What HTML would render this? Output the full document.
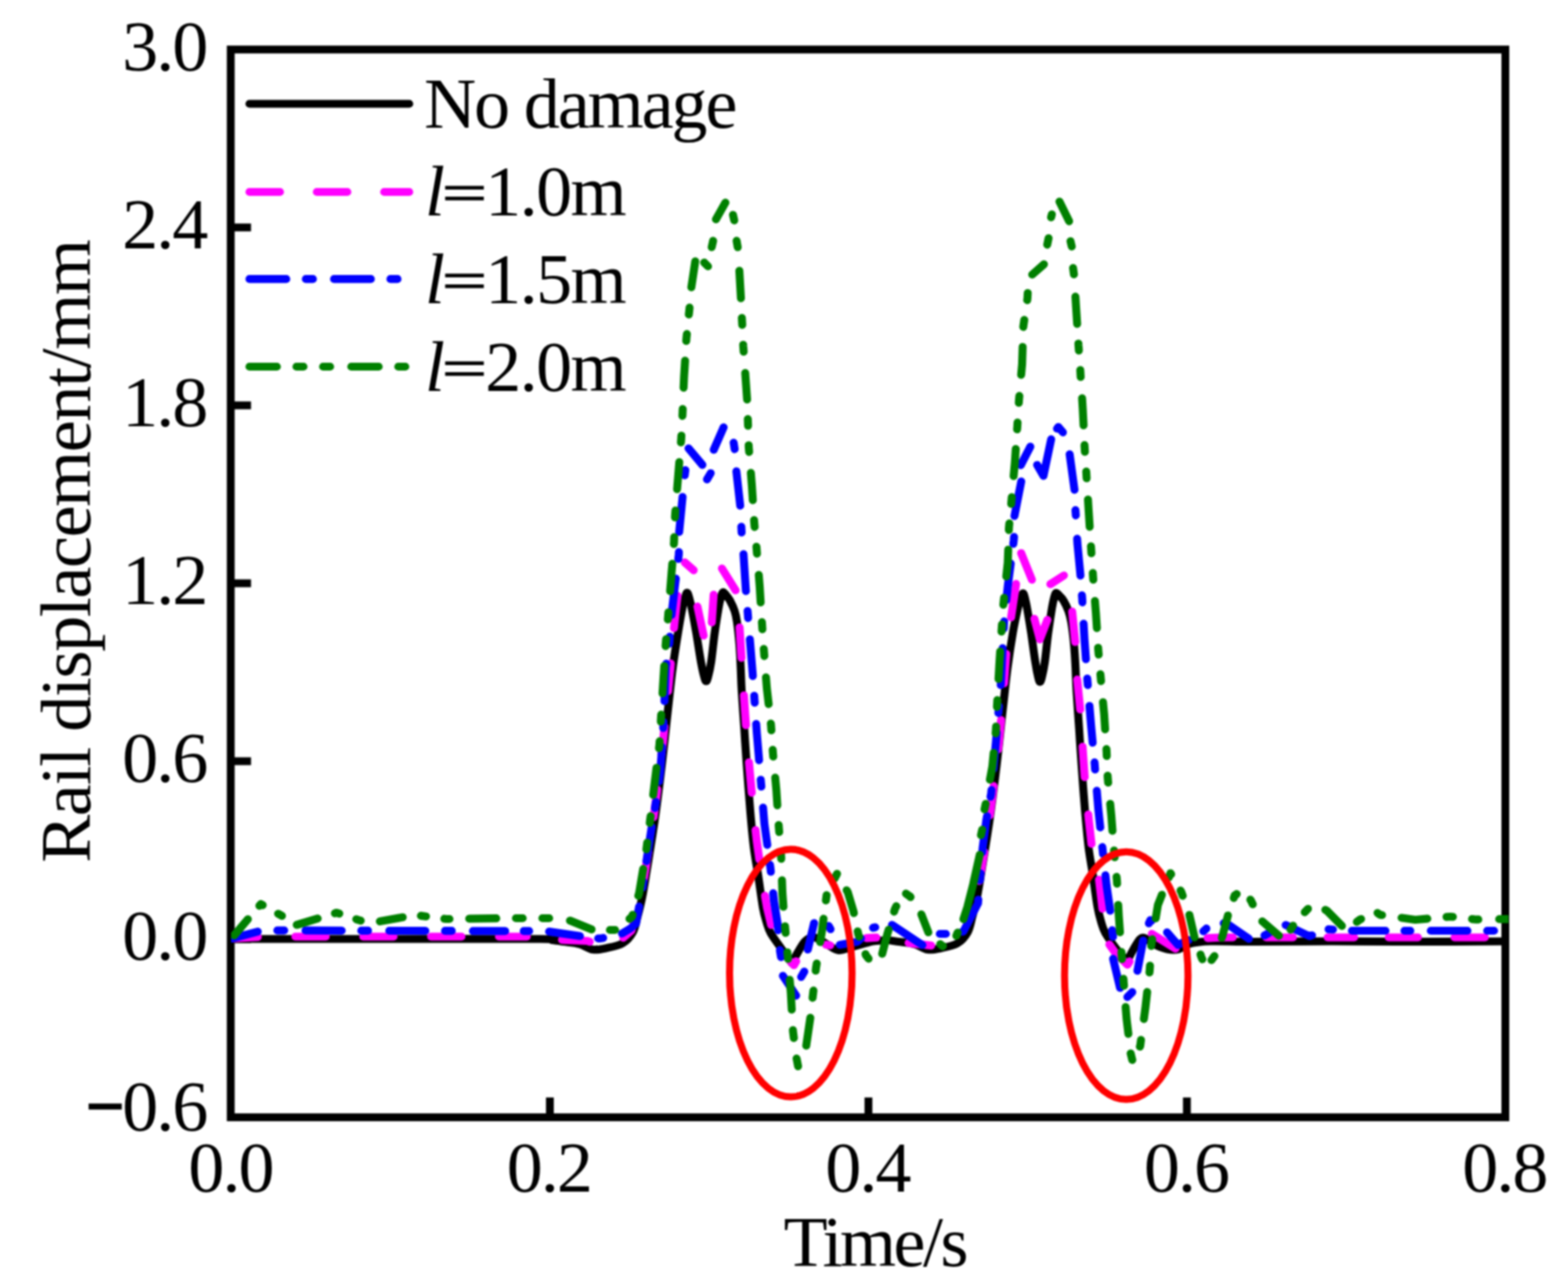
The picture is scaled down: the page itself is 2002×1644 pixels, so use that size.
<!DOCTYPE html>
<html lang="en">
<head>
<meta charset="utf-8">
<title>Rail displacement vs time</title>
<style>
  html, body { margin: 0; padding: 0; background: #ffffff; }
  body { width: 2002px; height: 1644px; overflow: hidden; }
  svg { display: block; filter: blur(0.9px); }
  text { font-family: "Liberation Serif", "DejaVu Serif", serif; font-size: 92px; fill: #000; }
  .curve { fill: none; stroke-width: 10.2; stroke-linejoin: round; stroke-linecap: round; }
  .axis { fill: none; stroke: #000; stroke-width: 10; stroke-linecap: butt; }
</style>
</head>
<body>
<svg width="2002" height="1644" viewBox="0 0 2002 1644">
<rect x="0" y="0" width="2002" height="1644" fill="#ffffff"/>
<defs>
  <clipPath id="plot"><rect x="295.0" y="63.2" width="1631.0" height="1362.6"/></clipPath>
</defs>

<rect class="axis" x="294.6" y="63.2" width="1627.4" height="1362.9"/>
<line class="axis" x1="702.1" y1="1425.8" x2="702.1" y2="1400.8"/>
<line class="axis" x1="1108.8" y1="1425.8" x2="1108.8" y2="1400.8"/>
<line class="axis" x1="1515.4" y1="1425.8" x2="1515.4" y2="1400.8"/>
<line class="axis" x1="295.5" y1="1198.7" x2="320.5" y2="1198.7"/>
<line class="axis" x1="295.5" y1="971.6" x2="320.5" y2="971.6"/>
<line class="axis" x1="295.5" y1="744.5" x2="320.5" y2="744.5"/>
<line class="axis" x1="295.5" y1="517.4" x2="320.5" y2="517.4"/>
<line class="axis" x1="295.5" y1="290.3" x2="320.5" y2="290.3"/>
<g clip-path="url(#plot)">
<path class="curve" stroke="#000000" d="M295.5,1198.5 C329.6,1198.5 434.2,1198.5 500.0,1198.5 C565.8,1198.5 655.8,1198.2 690.0,1198.5 C724.2,1198.8 700.0,1199.4 705.0,1200.0 C710.0,1200.6 714.2,1201.2 720.0,1202.0 C725.8,1202.8 733.8,1203.3 740.0,1205.0 C746.2,1206.7 751.2,1211.2 757.0,1212.0 C762.8,1212.8 768.7,1211.3 775.0,1210.0 C781.3,1208.7 789.5,1207.3 795.0,1204.0 C800.5,1200.7 804.8,1195.7 808.0,1190.0 C811.2,1184.3 812.0,1177.5 814.0,1170.0 C816.0,1162.5 818.0,1155.0 820.0,1145.0 C822.0,1135.0 824.2,1120.5 826.0,1110.0 C827.8,1099.5 828.9,1092.0 830.5,1082.0 C832.1,1072.0 834.0,1060.2 835.5,1050.0 C837.0,1039.8 838.1,1031.8 839.5,1021.0 C840.9,1010.2 842.5,997.3 844.0,985.0 C845.5,972.7 846.8,961.2 848.4,947.0 C850.0,932.8 851.7,915.8 853.5,900.0 C855.3,884.2 856.9,867.7 859.0,852.0 C861.1,836.3 863.9,818.8 866.0,806.0 C868.1,793.2 870.0,782.2 871.5,775.0 C873.0,767.8 873.8,765.6 874.8,762.5 C875.8,759.4 876.4,756.4 877.3,756.5 C878.2,756.6 879.0,759.4 880.0,763.0 C881.0,766.6 882.0,770.5 883.5,778.0 C885.0,785.5 887.1,796.8 889.0,808.0 C890.9,819.2 893.3,835.8 895.0,845.0 C896.7,854.2 897.9,859.4 899.0,863.5 C900.1,867.6 900.7,869.5 901.6,869.5 C902.5,869.5 903.1,867.6 904.2,863.5 C905.3,859.4 906.6,854.2 908.0,845.0 C909.4,835.8 910.9,819.5 912.5,808.0 C914.1,796.5 916.2,783.7 917.5,776.0 C918.8,768.3 919.6,765.3 920.5,762.0 C921.4,758.7 921.9,756.4 923.0,756.0 C924.1,755.6 925.5,757.8 927.0,759.5 C928.5,761.2 930.2,763.1 932.0,766.5 C933.8,769.9 936.5,775.4 938.0,780.0 C939.5,784.6 940.0,787.0 941.0,794.0 C942.0,801.0 943.2,812.3 944.0,822.0 C944.8,831.7 945.2,842.0 945.7,852.0 C946.2,862.0 946.2,869.0 947.0,882.0 C947.8,895.0 949.2,914.5 950.3,930.0 C951.3,945.5 952.0,957.3 953.3,975.0 C954.6,992.7 956.5,1018.2 958.0,1036.0 C959.5,1053.8 960.8,1068.5 962.5,1082.0 C964.2,1095.5 966.1,1104.3 968.0,1117.0 C969.9,1129.7 972.2,1147.8 974.0,1158.0 C975.8,1168.2 977.3,1172.5 979.0,1178.0 C980.7,1183.5 981.0,1185.7 984.0,1191.0 C987.0,1196.3 992.5,1203.6 997.0,1210.0 C1001.5,1216.4 1011.2,1229.5 1011.2,1229.5 C1011.2,1229.5 1016.1,1219.8 1019.0,1215.0 C1021.9,1210.2 1024.8,1204.1 1028.3,1201.0 C1031.8,1197.9 1035.2,1195.7 1040.0,1196.5 C1044.8,1197.3 1051.8,1203.2 1057.0,1206.0 C1062.2,1208.8 1065.5,1212.7 1071.0,1213.0 C1076.5,1213.3 1082.8,1209.9 1090.0,1208.0 C1097.2,1206.1 1107.8,1202.8 1114.0,1201.5 C1120.2,1200.2 1123.9,1200.8 1127.0,1200.5 C1130.1,1200.2 1129.1,1199.8 1132.5,1200.0 C1135.9,1200.2 1141.7,1201.2 1147.5,1202.0 C1153.3,1202.8 1161.3,1203.3 1167.5,1205.0 C1173.7,1206.7 1178.7,1211.2 1184.5,1212.0 C1190.3,1212.8 1196.2,1211.3 1202.5,1210.0 C1208.8,1208.7 1217.0,1207.3 1222.5,1204.0 C1228.0,1200.7 1232.3,1195.7 1235.5,1190.0 C1238.7,1184.3 1239.5,1177.5 1241.5,1170.0 C1243.5,1162.5 1245.5,1155.0 1247.5,1145.0 C1249.5,1135.0 1251.8,1120.5 1253.5,1110.0 C1255.2,1099.5 1256.4,1092.0 1258.0,1082.0 C1259.6,1072.0 1261.5,1060.2 1263.0,1050.0 C1264.5,1039.8 1265.6,1031.8 1267.0,1021.0 C1268.4,1010.2 1270.0,997.3 1271.5,985.0 C1273.0,972.7 1274.3,961.2 1275.9,947.0 C1277.5,932.8 1279.2,915.8 1281.0,900.0 C1282.8,884.2 1284.4,867.7 1286.5,852.0 C1288.6,836.3 1291.3,818.7 1293.5,806.0 C1295.7,793.3 1298.1,782.9 1299.7,775.8 C1301.4,768.7 1302.4,766.4 1303.5,763.3 C1304.6,760.2 1305.4,757.2 1306.3,757.3 C1307.2,757.4 1307.8,760.2 1308.7,763.8 C1309.6,767.4 1310.5,771.3 1311.8,778.8 C1313.1,786.3 1315.0,797.6 1316.7,808.8 C1318.3,820.0 1320.5,836.5 1322.0,845.8 C1323.4,855.0 1324.5,860.2 1325.5,864.3 C1326.5,868.4 1327.0,870.3 1327.8,870.3 C1328.6,870.3 1329.3,868.4 1330.3,864.3 C1331.3,860.2 1332.6,855.0 1333.9,845.8 C1335.3,836.5 1336.7,820.3 1338.2,808.8 C1339.8,797.3 1341.8,784.5 1343.0,776.8 C1344.3,769.1 1345.0,766.1 1345.9,762.8 C1346.8,759.5 1347.2,757.2 1348.3,756.8 C1349.4,756.4 1351.0,758.7 1352.5,760.3 C1354.1,761.9 1355.9,763.2 1357.8,766.5 C1359.8,769.8 1362.6,775.4 1364.2,780.0 C1365.8,784.6 1366.5,787.0 1367.7,794.0 C1368.9,801.0 1370.3,812.3 1371.2,822.0 C1372.1,831.7 1372.7,842.0 1373.2,852.0 C1373.7,862.0 1373.7,869.0 1374.5,882.0 C1375.3,895.0 1376.7,914.5 1377.8,930.0 C1378.8,945.5 1379.5,957.3 1380.8,975.0 C1382.0,992.7 1383.9,1018.2 1385.4,1036.0 C1387.0,1053.8 1388.3,1068.5 1389.9,1082.0 C1391.6,1095.5 1393.5,1104.3 1395.4,1117.0 C1397.3,1129.7 1399.5,1147.8 1401.4,1158.0 C1403.2,1168.2 1404.7,1172.5 1406.3,1178.0 C1408.0,1183.5 1408.3,1185.7 1411.3,1191.0 C1414.4,1196.3 1419.9,1204.0 1424.5,1210.0 C1429.2,1216.0 1439.2,1227.0 1439.2,1227.0 C1439.2,1227.0 1444.0,1217.2 1446.7,1212.5 C1449.5,1207.8 1453.0,1200.9 1455.7,1198.5 C1458.4,1196.1 1459.8,1196.8 1463.0,1198.0 C1466.2,1199.2 1470.5,1203.8 1475.0,1206.0 C1479.5,1208.2 1485.0,1210.6 1490.0,1211.5 C1495.0,1212.4 1500.2,1212.7 1505.0,1211.5 C1509.8,1210.3 1512.3,1206.2 1519.0,1204.5 C1525.7,1202.8 1531.5,1201.9 1545.0,1201.5 C1558.5,1201.1 1574.2,1202.0 1600.0,1202.0 C1625.8,1202.0 1666.7,1201.5 1700.0,1201.5 C1733.3,1201.5 1761.7,1202.0 1800.0,1202.0 C1838.3,1202.0 1908.3,1201.6 1930.0,1201.5"/>
<path class="curve" stroke="#ff00ff" d="M295.5,1198.0 L329.2,1195.9 M377.1,1195.5 L415.9,1195.5 M463.8,1195.5 L500.0,1195.5 L502.5,1195.5 M550.4,1195.5 L589.2,1195.5 M637.1,1195.5 L672.6,1195.5 M717.6,1199.6 L750.0,1201.0 L752.9,1202.1 M795.7,1197.0 L806.0,1188.0 L812.0,1170.0 L812.7,1167.3 M821.8,1122.8 L824.0,1110.0 L827.6,1087.8 M834.5,1042.9 L837.5,1021.0 L839.2,1007.7 M844.6,962.7 L846.5,947.0 L848.4,927.4 M852.9,882.2 L856.0,852.0 L856.4,846.9 M860.5,801.7 L864.0,770.0 L865.1,760.5 M944.3,800.9 L946.7,839.7 M949.8,887.5 L950.0,890.0 L952.4,925.7 M956.3,973.1 L957.9,991.0 L959.8,1011.8 M964.7,1059.6 L966.3,1074.0 L969.5,1096.9 M976.7,1143.3 L979.2,1158.0 L984.6,1180.6 M1250.5,1124.4 L1253.0,1110.0 L1256.7,1087.2 M1263.8,1040.7 L1266.5,1021.0 L1268.7,1003.3 M1274.4,956.6 L1275.5,947.0 L1278.2,919.1 M1282.0,872.2 L1284.8,834.6 M1291.0,787.9 L1291.2,786.4 L1297.3,745.4 L1297.3,745.3 M1369.0,780.7 L1372.8,819.5 M1375.4,867.4 L1379.2,905.6 M1382.2,953.0 L1384.9,991.9 M1389.5,1039.7 L1390.0,1045.0 L1393.6,1077.1 M1403.2,1122.9 L1407.6,1159.9 M1416.4,1205.5 L1423.7,1215.7 L1439.5,1231.5 L1442.2,1227.2 M1470.7,1192.0 L1500.9,1210.9 M1541.9,1197.3 L1560.0,1196.5 L1574.0,1196.5 M1616.7,1196.5 L1650.8,1196.5 M1695.1,1196.5 L1700.0,1196.5 L1729.0,1196.5 M1773.1,1196.5 L1810.4,1196.5 M1857.1,1196.5 L1895.9,1196.5 M874.3,717.8 L885.7,727.8 M890.5,774.2 L898.4,811.3 M908.8,794.5 L911.2,759.1 M921.8,725.6 L939.2,753.5 M1303.8,706.0 L1317.5,739.9 M1320.7,789.8 L1327.7,816.1 L1337.3,791.2 M1341.1,745.6 L1358.4,734.5 M1009.5,1227.6 L1013.7,1232.0 L1016.6,1227.0 M1054.6,1205.8 L1060.0,1206.7 M1106.1,1197.3 L1118.9,1196.7 M1160.1,1203.6 L1188.9,1206.9"/>
<path class="curve" stroke="#0000ff" d="M295.5,1198.0 L329.1,1189.1 M354.1,1187.6 L362.9,1187.6 M390.1,1187.7 L436.3,1187.8 M461.3,1187.9 L469.9,1187.9 M497.0,1188.0 L500.0,1188.0 L543.1,1188.1 M568.2,1188.2 L576.8,1188.2 M603.8,1188.3 L645.0,1188.4 M668.7,1188.4 L675.6,1188.4 M701.1,1189.1 L740.5,1194.7 M763.7,1197.8 L765.0,1198.0 L770.1,1197.2 M794.2,1191.5 L805.0,1185.0 L812.0,1179.0 L816.0,1157.1 M820.3,1133.0 L821.5,1125.2 M825.4,1099.1 L828.0,1082.0 L832.1,1055.5 M836.2,1031.4 L837.5,1023.6 M841.3,997.5 L843.0,985.0 L845.3,953.7 M846.8,929.2 L847.1,921.4 M848.4,895.0 L848.4,894.6 L850.0,852.0 L850.7,847.0 M854.5,821.7 L854.5,821.6 L855.2,812.5 M857.4,785.0 L857.5,783.6 L862.0,745.6 L862.9,738.5 M866.0,713.4 L866.7,707.6 L866.8,704.7 M949.3,707.3 L952.0,749.0 L952.4,754.5 M954.5,779.8 L954.8,783.6 L955.2,788.8 M957.4,816.0 L957.9,821.6 L961.0,859.6 L961.2,862.9 M963.0,888.0 L963.2,891.6 L963.6,896.9 M965.5,924.1 L966.3,935.7 L969.2,970.3 M971.3,995.3 L971.6,998.4 L972.1,1004.0 M974.3,1030.9 L976.0,1051.6 L979.7,1078.4 M983.1,1103.7 L983.7,1108.0 L984.2,1112.7 M987.2,1140.1 L988.3,1150.5 L992.9,1179.0 L993.6,1187.3 M995.8,1212.6 L996.0,1214.5 L997.2,1221.6 M1031.4,1212.0 L1031.4,1212.0 L1039.4,1178.3 M1058.1,1181.9 L1060.4,1186.0 M1072.2,1205.9 L1094.6,1202.0 L1099.3,1197.8 M1114.7,1184.2 L1115.0,1184.0 L1117.5,1183.6 M1138.9,1180.6 L1177.7,1206.2 M1228.7,1189.2 L1230.0,1189.0 L1242.5,1165.0 L1248.7,1153.0 L1249.1,1148.4 M1251.2,1123.4 L1251.9,1114.8 M1254.2,1087.7 L1254.7,1081.8 L1259.3,1046.8 L1260.2,1041.7 M1264.7,1017.0 L1265.4,1013.4 L1265.9,1008.4 M1268.4,981.4 L1271.5,948.0 L1272.6,935.1 M1274.7,910.0 L1275.5,901.4 M1277.7,874.4 L1280.2,827.3 M1281.6,802.1 L1282.0,794.0 L1282.1,793.2 M1284.9,766.1 L1286.7,748.4 L1290.5,719.3 M1293.8,694.2 L1294.3,690.0 L1294.7,685.3 M1375.3,687.7 L1375.6,693.3 L1379.4,733.2 L1379.5,734.7 M1381.4,759.9 L1381.7,763.6 L1382.0,768.8 M1383.5,796.1 L1384.7,816.8 L1386.5,841.3 M1388.2,866.1 L1388.5,870.0 L1388.9,874.4 M1391.0,901.0 L1393.0,925.0 L1395.1,948.0 M1397.5,973.2 L1397.7,975.4 L1398.2,982.1 M1400.4,1009.3 L1402.2,1031.6 L1404.8,1056.1 M1407.4,1081.2 L1407.5,1081.8 L1408.4,1090.1 M1411.4,1117.2 L1412.9,1130.5 L1417.5,1162.5 M1420.0,1187.4 L1420.0,1187.7 L1421.1,1195.7 M1452.3,1239.1 L1459.6,1200.5 M1466.9,1178.6 L1468.7,1174.4 L1470.1,1175.4 M1490.1,1190.1 L1504.0,1206.0 L1517.4,1199.9 M1536.4,1188.7 L1540.3,1185.2 M1562.4,1178.4 L1565.0,1178.0 L1594.6,1198.3 M1614.5,1194.0 L1619.8,1191.1 M1641.5,1180.7 L1672.0,1195.0 L1675.2,1193.8 M1696.3,1186.1 L1701.9,1186.5 M1726.1,1188.0 L1769.0,1188.0 M1793.2,1188.0 L1800.0,1188.0 L1800.7,1188.0 M1826.8,1188.0 L1873.6,1188.0 M1898.8,1188.0 L1907.6,1188.0 M999.6,1245.5 L1016.5,1270.8 M1022.9,1247.0 L1026.9,1240.1 M1199.9,1192.0 L1207.7,1192.0 M1421.2,1223.8 L1430.1,1261.0 M1439.4,1272.6 L1445.7,1266.3 M867.2,678.9 L871.5,634.3 M874.2,606.7 L875.1,600.1 M879.1,572.3 L896.8,593.4 M902.7,611.9 L907.4,604.0 M911.3,574.1 L923.9,545.4 M936.7,565.0 L938.0,573.3 M940.2,601.6 L945.1,645.4 M946.5,672.3 L946.9,679.6 M1295.3,658.6 L1303.9,614.6 M1303.4,593.7 L1315.5,570.1 M1324.2,593.5 L1332.3,607.4 L1342.1,560.7 M1349.6,547.1 L1351.3,545.0 L1357.1,551.8 M1365.7,579.8 L1371.9,625.1 M1373.1,651.2 L1373.6,657.8"/>
<path class="curve" stroke="#008000" d="M299.0,1193.9 L316.5,1173.3 M331.2,1156.1 L333.0,1154.0 L335.4,1155.3 M355.1,1166.3 L360.0,1169.0 M378.9,1180.5 L405.6,1172.4 M427.6,1165.7 L430.0,1165.0 L433.2,1166.1 M454.9,1173.3 L460.0,1175.0 L460.6,1175.1 M485.0,1176.1 L514.2,1170.8 M537.4,1168.9 L543.9,1169.7 M567.3,1172.7 L570.0,1173.0 L573.9,1173.0 M599.1,1172.6 L633.6,1172.2 M658.7,1172.0 L667.4,1172.0 M692.5,1172.0 L701.2,1172.0 M727.7,1175.1 L755.3,1186.3 M778.7,1187.0 L785.4,1187.0 M803.7,1172.8 L807.0,1170.0 L807.7,1167.7 M815.0,1143.4 L816.0,1140.0 L821.2,1109.1 M825.3,1084.2 L826.4,1075.5 M829.6,1050.4 L830.0,1047.0 L830.7,1041.7 M834.0,1014.6 L836.0,998.0 L838.2,980.0 M841.4,955.0 L842.0,950.0 L842.2,946.2 M843.7,921.0 L843.9,917.4 L844.2,912.2 M845.9,885.0 L847.0,867.0 L848.1,850.0 M849.8,824.7 L850.0,821.6 L850.5,815.8 M852.7,790.6 L853.0,786.7 L853.4,781.7 M855.6,754.5 L857.5,730.4 L858.4,719.7 M860.4,694.5 L860.6,691.6 L860.8,685.6 M861.8,660.4 L862.0,656.6 L862.4,651.6 M864.5,624.4 L866.0,606.0 L867.3,589.8 M869.4,564.7 L869.7,561.0 L870.0,556.0 M871.3,530.8 L871.4,529.0 L871.7,522.1 M872.8,494.9 L873.4,481.0 L874.7,460.3 M876.2,435.2 L876.5,431.0 L877.0,426.4 M879.5,401.4 L880.0,397.0 L880.4,392.7 M944.0,345.6 L946.0,380.6 M947.2,405.8 L947.7,414.7 M948.9,440.0 L949.0,442.0 L949.5,448.9 M951.5,476.1 L953.9,510.0 M954.8,534.9 L955.1,543.4 M955.9,568.3 L956.0,571.0 L956.5,576.8 M958.7,603.6 L960.0,620.0 L961.2,638.5 M962.8,663.8 L963.0,667.0 L963.5,672.6 M965.8,697.8 L966.0,700.0 L966.5,706.7 M968.8,733.9 L970.0,749.0 L971.2,768.9 M972.8,794.2 L973.0,797.0 L973.4,803.1 M975.2,828.4 L975.4,830.8 L975.9,837.3 M978.0,864.6 L979.2,879.4 L981.4,898.7 M984.2,923.6 L984.5,926.6 L984.9,932.2 M986.6,957.2 L986.8,960.0 L987.3,965.7 M989.8,992.6 L991.3,1009.0 L992.5,1027.8 M994.2,1053.0 L994.4,1056.0 L994.9,1062.0 M996.9,1087.3 L997.4,1094.0 L997.5,1096.2 M998.4,1123.6 L999.0,1140.0 L1000.3,1157.5 M1002.3,1182.3 L1003.1,1190.7 M1005.3,1215.5 L1005.8,1220.6 L1006.1,1223.9 M1008.3,1250.7 L1009.7,1267.0 L1010.9,1288.7 M1012.4,1314.9 L1012.5,1316.4 L1013.6,1325.0 M1017.1,1351.1 L1019.0,1361.0 L1019.0,1361.0 M1029.4,1334.7 L1034.6,1299.1 M1037.5,1273.6 L1037.8,1271.0 L1038.6,1264.4 M1041.5,1239.0 L1041.8,1236.0 L1042.8,1229.8 M1047.2,1202.5 L1049.6,1187.7 L1051.5,1172.7 M1054.5,1149.3 L1055.4,1142.5 M1065.5,1121.4 L1068.7,1115.3 M1081.0,1136.3 L1082.5,1139.0 L1089.8,1163.4 L1090.2,1165.4 M1095.1,1188.8 L1095.9,1192.6 L1097.0,1195.5 M1105.1,1217.9 L1105.6,1219.4 L1109.0,1223.7 M1126.4,1217.4 L1133.0,1192.0 L1134.6,1186.7 M1141.6,1163.6 L1142.7,1160.0 L1144.4,1156.7 M1156.7,1140.6 L1162.2,1144.5 L1162.6,1145.1 M1176.4,1167.1 L1185.3,1190.0 M1200.5,1205.1 L1203.5,1207.7 L1203.9,1207.4 M1221.1,1194.4 L1222.7,1190.3 M1263.9,995.1 L1267.0,978.4 L1268.7,961.0 M1271.2,936.0 L1271.5,932.8 L1271.8,927.4 M1272.9,902.3 L1273.0,900.5 L1273.4,893.6 M1274.9,866.6 L1276.0,847.0 L1277.0,831.5 M1278.7,806.2 L1279.0,801.6 L1279.3,797.2 M1281.1,771.9 L1281.3,769.7 L1282.0,763.0 M1284.8,735.8 L1286.7,718.0 L1287.3,701.6 M1288.1,676.6 L1288.2,673.5 L1288.7,668.1 M1291.1,643.2 L1291.2,641.6 L1291.8,634.6 M1294.2,607.7 L1295.8,590.0 L1296.9,573.1 M1298.6,548.0 L1298.8,545.8 L1299.2,539.3 M1300.8,514.2 L1301.0,511.0 L1301.5,505.4 M1303.8,478.4 L1305.0,465.0 L1305.7,442.8 M1306.5,417.3 L1307.8,408.3 M1311.5,383.1 L1311.8,381.2 L1312.2,374.0 M1373.1,378.7 L1374.0,393.3 L1375.3,413.4 M1376.9,438.5 L1377.0,440.5 L1377.5,447.3 M1379.3,472.4 L1379.4,474.3 L1379.8,481.2 M1381.6,508.3 L1382.5,523.0 L1383.5,542.9 M1384.7,568.0 L1384.7,568.6 L1385.2,576.7 M1386.9,601.8 L1387.0,603.6 L1387.4,610.5 M1389.1,637.6 L1390.0,652.2 L1391.3,672.3 M1392.9,697.4 L1393.0,698.2 L1393.5,706.1 M1395.3,731.3 L1395.4,733.2 L1395.9,740.0 M1398.0,767.1 L1399.2,781.9 L1400.5,801.7 M1402.1,826.8 L1402.2,829.0 L1402.8,835.5 M1405.0,860.6 L1405.3,864.0 L1405.8,869.3 M1408.3,896.3 L1409.8,912.0 L1411.0,931.0 M1412.7,956.2 L1412.9,960.0 L1413.1,965.0 M1414.2,990.1 L1414.4,993.6 L1414.9,998.9 M1417.5,1026.0 L1419.0,1042.0 L1420.4,1060.5 M1422.4,1085.5 L1423.2,1094.2 M1425.6,1119.2 L1426.0,1123.0 L1426.3,1127.9 M1427.7,1155.0 L1428.5,1169.5 L1430.0,1190.0 M1431.9,1215.2 L1432.0,1217.0 L1432.5,1224.1 M1434.4,1249.3 L1434.5,1251.0 L1435.1,1258.2 M1437.2,1285.4 L1438.4,1300.4 L1440.7,1319.7 M1443.6,1344.6 L1445.7,1353.0 M1455.4,1335.9 L1455.8,1335.0 L1456.8,1327.4 M1460.5,1300.6 L1462.5,1285.7 L1464.7,1266.2 M1467.6,1241.3 L1467.9,1238.8 L1468.3,1232.6 M1469.9,1207.5 L1470.0,1206.0 L1471.2,1198.9 M1475.6,1172.2 L1478.4,1155.0 L1483.5,1142.1 M1492.4,1119.8 L1494.5,1114.5 L1495.3,1115.9 M1507.3,1136.7 L1508.4,1138.7 L1510.1,1143.4 M1518.6,1167.8 L1525.0,1195.6 L1525.2,1196.3 M1532.8,1218.4 L1534.0,1222.0 L1535.1,1224.4 M1546.8,1225.5 L1550.6,1220.3 M1560.0,1197.0 L1560.6,1195.6 L1567.8,1168.5 M1575.3,1146.2 L1576.4,1143.0 L1579.0,1141.2 M1596.4,1148.4 L1597.0,1149.0 L1599.5,1154.2 M1611.7,1176.0 L1633.0,1194.3 M1647.7,1186.6 L1651.0,1181.6 M1665.9,1164.3 L1670.0,1160.0 L1670.0,1160.0 M1692.2,1161.4 L1694.4,1162.7 L1713.4,1181.8 M1732.4,1176.7 L1736.5,1173.7 L1737.8,1173.1 M1758.8,1165.3 L1762.0,1167.6 L1764.6,1168.0 M1789.5,1171.5 L1807.0,1174.0 L1822.4,1172.6 M1846.9,1170.4 L1852.0,1170.0 L1855.0,1170.3 M1879.5,1173.1 L1885.0,1173.7 L1887.5,1173.7 M1914.1,1173.2 L1930.0,1173.0 M1230.1,1173.1 L1235.0,1158.0 L1242.5,1128.7 L1250.9,1091.0 M1252.5,1066.0 L1254.0,1059.0 M1257.0,1033.0 L1258.5,1026.0 M882.7,366.7 L887.7,333.5 M899.1,335.1 L904.0,340.0 M908.7,315.5 L910.5,307.4 M914.1,279.9 L926.2,258.6 M935.9,274.3 L937.5,281.3 M940.5,307.4 L941.9,315.5 M1317.9,350.5 L1332.9,337.3 M1337.1,312.3 L1338.8,304.0 M1342.0,277.4 L1343.0,273.6 M1352.7,257.3 L1365.0,282.3 M1366.8,307.9 L1368.4,314.6 M1370.1,342.1 L1371.2,350.2"/>
</g>
<ellipse cx="1009.7" cy="1242" rx="78.2" ry="158" fill="none" stroke="#ff0000" stroke-width="9"/>
<ellipse cx="1438" cy="1245.3" rx="78.8" ry="158" fill="none" stroke="#ff0000" stroke-width="9"/>
<text x="295.5" y="1521" text-anchor="middle" textLength="110" lengthAdjust="spacing">0.0</text>
<text x="702.1" y="1521" text-anchor="middle" textLength="110" lengthAdjust="spacing">0.2</text>
<text x="1108.8" y="1521" text-anchor="middle" textLength="110" lengthAdjust="spacing">0.4</text>
<text x="1515.4" y="1521" text-anchor="middle" textLength="110" lengthAdjust="spacing">0.6</text>
<text x="1922.0" y="1521" text-anchor="middle" textLength="110" lengthAdjust="spacing">0.8</text>
<text y="1443.3"><tspan x="110.5" dy="-0.5" text-anchor="start" textLength="48" lengthAdjust="spacingAndGlyphs" stroke="#000" stroke-width="3">−</tspan><tspan x="266" dy="0.5" text-anchor="end" textLength="110" lengthAdjust="spacing">0.6</tspan></text>
<text x="266" y="1225.2" text-anchor="end" textLength="110" lengthAdjust="spacing">0.0</text>
<text x="266" y="998.1" text-anchor="end" textLength="110" lengthAdjust="spacing">0.6</text>
<text x="266" y="771.0" text-anchor="end" textLength="110" lengthAdjust="spacing">1.2</text>
<text x="266" y="543.9" text-anchor="end" textLength="110" lengthAdjust="spacing">1.8</text>
<text x="266" y="316.8" text-anchor="end" textLength="110" lengthAdjust="spacing">2.4</text>
<text x="266" y="89.7" text-anchor="end" textLength="110" lengthAdjust="spacing">3.0</text>
<text x="1118.5" y="1616" text-anchor="middle" textLength="236" lengthAdjust="spacing">Time/s</text>
<text transform="translate(114.5 703.2) rotate(-90)" x="0" y="0" text-anchor="middle" textLength="796" lengthAdjust="spacing">Rail displacement/mm</text>
<line class="curve" stroke="#000" x1="318.5" y1="132.5" x2="522.5" y2="132.5"/>
<line class="curve" stroke="#ff00ff" stroke-dasharray="39 47" x1="318.5" y1="245" x2="522.5" y2="245"/>
<line class="curve" stroke="#0000ff" stroke-dasharray="47 25 9 27" x1="318.5" y1="356.2" x2="522.5" y2="356.2"/>
<line class="curve" stroke="#008000" stroke-dasharray="35 25 9 25 9 27" x1="318.5" y1="468" x2="522.5" y2="468"/>
<text x="541.5" y="163" text-anchor="start" textLength="400" lengthAdjust="spacing">No damage</text>
<text y="275" text-anchor="start"><tspan x="542.5" font-style="italic">l</tspan><tspan x="564.2" dy="-5.6" font-size="67px" textLength="57.5" lengthAdjust="spacingAndGlyphs" stroke="#000" stroke-width="1.3">=</tspan><tspan x="619.5" dy="5.6" textLength="180.5" lengthAdjust="spacing">1.0m</tspan></text>
<text y="387" text-anchor="start"><tspan x="542.5" font-style="italic">l</tspan><tspan x="564.2" dy="-5.6" font-size="67px" textLength="57.5" lengthAdjust="spacingAndGlyphs" stroke="#000" stroke-width="1.3">=</tspan><tspan x="619.5" dy="5.6" textLength="180.5" lengthAdjust="spacing">1.5m</tspan></text>
<text y="499" text-anchor="start"><tspan x="542.5" font-style="italic">l</tspan><tspan x="564.2" dy="-5.6" font-size="67px" textLength="57.5" lengthAdjust="spacingAndGlyphs" stroke="#000" stroke-width="1.3">=</tspan><tspan x="619.5" dy="5.6" textLength="180.5" lengthAdjust="spacing">2.0m</tspan></text>
</svg>
</body>
</html>
